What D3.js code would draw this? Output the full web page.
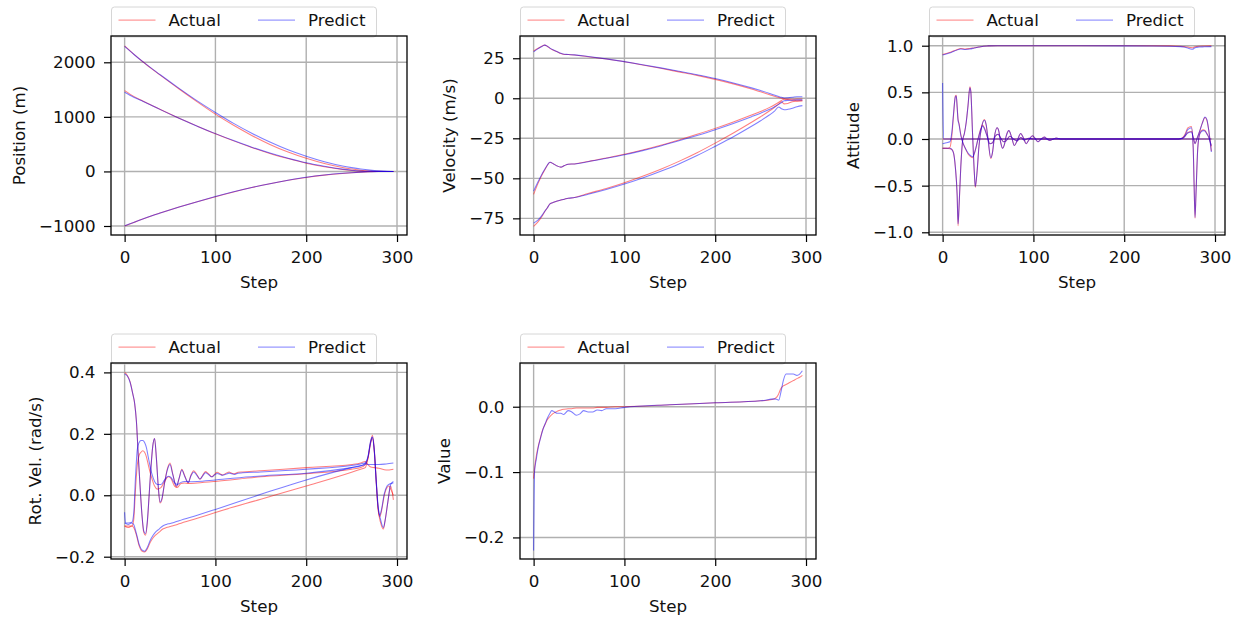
<!DOCTYPE html>
<html>
<head>
<meta charset="utf-8">
<script src="https://cdn.jsdelivr.net/npm/d3@7"></script>
<style>
  body { margin: 0; background: #fff; }
  text { font-family: "DejaVu Sans", sans-serif; }
</style>
</head>
<body>
<svg id="chart" width="1236" height="620"></svg>
<script>
// ---- data ----
const xTicks = [0, 100, 200, 300]

// position (m)
const posSteps = [0, 10, 20, 30, 40, 60, 80, 100, 120, 140, 160, 180, 200, 220, 240, 250, 260, 270, 280, 290, 296]
const posA_act = [2300, 2150, 2010, 1880, 1755, 1510, 1275, 1050, 845, 660, 495, 355, 240, 145, 72, 45, 22, 8, 1, -2, -3]
const posA_pre = [2290, 2148, 2012, 1885, 1762, 1522, 1292, 1080, 880, 700, 538, 396, 278, 178, 100, 70, 44, 24, 10, 2, 0]
const posB_act = [1480, 1375, 1290, 1210, 1130, 975, 830, 690, 560, 440, 330, 235, 150, 85, 35, 18, 6, 0, -2, -3, -3]
const posB_pre = [1450, 1360, 1285, 1208, 1128, 975, 830, 693, 565, 445, 338, 243, 160, 95, 42, 22, 8, 2, 0, -1, -1]
const posC_act = [-1000, -937, -872, -813, -759, -654, -555, -462, -375, -296, -225, -163, -110, -68, -37, -25, -15, -7, -2, 0, 0]
const posC_pre = [-995, -935, -870, -812, -758, -653, -554, -461, -374, -295, -224, -162, -108, -66, -35, -23, -13, -6, -1, 0, 0]
const posTicks = [-1000, 0, 1000, 2000]

// velocity (m/s)
const velSteps = [0, 5, 10, 12, 15, 18, 22, 26, 30, 34, 38, 45, 60, 80, 100, 120, 140, 160, 180, 200, 220, 240, 250, 260, 265, 270, 273, 276, 280, 285, 290, 296]
const velT_act = [29.5, 31.2, 32.8, 33.2, 32.5, 31.2, 30, 29, 28, 27.4, 27.3, 27, 26, 24.5, 22.8, 20.8, 18.7, 16.5, 14.3, 11.8, 9, 5.8, 4, 2.2, 1.3, 0.5, 0, -0.3, -0.5, -0.6, -0.5, -0.5]
const velT_pre = [29, 31, 32.7, 33.2, 32.6, 31.3, 30.1, 29.1, 28.1, 27.5, 27.4, 27.1, 26.1, 24.6, 22.9, 21, 19, 16.9, 14.7, 12.3, 9.6, 6.5, 4.8, 3, 2, 1.1, 0.6, 0.2, 0.3, 0.6, 1, 1]
const velM_act = [-60, -53, -47, -45, -42, -40, -41, -42.3, -43, -42, -41.2, -41, -39.5, -37.3, -35, -32.3, -29.3, -26, -22.5, -18.8, -14.8, -10.5, -8.2, -5.7, -4.2, -2.5, -1.3, -0.6, -0.8, -1.2, -1.5, -1.6]
const velM_pre = [-58, -52, -46.5, -44.6, -41.8, -40, -41, -42.3, -43, -42, -41.2, -41, -39.6, -37.5, -35.3, -32.7, -29.8, -26.6, -23.2, -19.6, -15.7, -11.5, -9.3, -6.9, -5.4, -3.8, -2.6, -1.6, -1.3, -1.2, -1, -1]
const velL_act = [-80, -77, -73, -71, -68.5, -66, -65, -64.2, -63.5, -63, -62.5, -62, -59.5, -56.3, -52.7, -48.7, -44.3, -39.4, -34, -28, -21.7, -15, -11.5, -7.8, -5.8, -3.5, -2.2, -3.5, -3.2, -2.2, -1.8, -1.5]
const velL_pre = [-78, -76, -72.5, -70.8, -68.5, -66, -65, -64.2, -63.5, -63, -62.5, -62, -60, -57, -53.6, -49.8, -45.6, -41, -35.8, -30, -24, -17.5, -14, -10.3, -8.2, -5.5, -6.5, -7.2, -6.9, -6.2, -5.3, -4.6]
const velTicks = [-75, -50, -25, 0, 25]

// attitude
const attWSteps = [0, 5, 10, 15, 20, 25, 30, 35, 40, 45, 50, 60, 100, 150, 200, 250, 262, 266, 270, 273, 275, 278, 282, 288, 296]
const attW_act = [0.905, 0.92, 0.935, 0.955, 0.97, 0.965, 0.97, 0.978, 0.985, 0.995, 0.998, 1.0, 1.0, 1.0, 1.0, 0.998, 0.995, 0.99, 0.985, 0.98, 0.978, 0.99, 0.995, 0.997, 0.998]
const attW_pre = [0.9, 0.915, 0.93, 0.95, 0.965, 0.96, 0.965, 0.975, 0.985, 0.995, 0.998, 1.0, 1.0, 0.999, 0.998, 0.995, 0.99, 0.985, 0.975, 0.965, 0.962, 0.978, 0.985, 0.988, 0.99]
const attXSteps = [0, 4, 8, 10, 12, 14, 15, 16, 17, 18, 20, 22, 25, 28, 31, 33, 36, 39, 42, 44, 46, 49, 52, 55, 58, 61, 64, 67, 70, 74, 78, 82, 86, 90, 95, 100, 110, 120, 200, 260, 264, 267, 270, 274, 276, 278, 280, 283, 286, 289, 291, 293, 295, 296]
const attX_act = [-0.1, -0.1, -0.09, 0.02, 0.25, 0.46, 0.47, 0.35, 0.21, 0.17, 0.05, -0.03, -0.1, -0.16, -0.19, -0.2, -0.12, 0.0, 0.11, 0.15, 0.12, 0.03, -0.05, -0.04, 0.03, 0.05, 0.01, -0.03, -0.02, 0.03, 0.0, -0.02, 0.015, -0.01, 0.008, 0.0, 0.0, 0.0, 0.0, 0.0, 0.005, 0.03, 0.07, 0.08, 0.02, -0.05, 0.0, 0.08, 0.17, 0.23, 0.2, 0.1, -0.05, -0.13]
const attX_pre = [-0.05, -0.04, -0.03, 0.06, 0.27, 0.45, 0.46, 0.34, 0.2, 0.16, 0.04, -0.03, -0.1, -0.15, -0.18, -0.19, -0.12, 0.0, 0.1, 0.14, 0.11, 0.03, -0.05, -0.04, 0.03, 0.05, 0.01, -0.03, -0.02, 0.03, 0.0, -0.02, 0.015, -0.01, 0.008, 0.0, 0.0, 0.0, 0.0, 0.0, 0.005, 0.03, 0.065, 0.075, 0.02, -0.05, 0.0, 0.08, 0.17, 0.235, 0.21, 0.1, -0.06, -0.14]
const attYSteps = [0, 4, 8, 10, 12, 14, 16, 17, 18, 20, 22, 24, 26, 28, 30, 31, 33, 35, 36, 38, 40, 43, 46, 48, 50, 53, 55, 57, 60, 62, 64, 66, 68, 70, 73, 76, 79, 82, 86, 89, 92, 95, 99, 102, 105, 108, 112, 115, 118, 122, 125, 130, 200, 260, 264, 267, 270, 274, 276, 277, 278, 279, 281, 283, 285, 287, 289, 291, 293, 295, 296]
const attY_act = [-0.1, -0.1, -0.105, -0.11, -0.15, -0.3, -0.6, -0.93, -0.75, -0.3, -0.02, 0.06, 0.18, 0.36, 0.56, 0.52, 0.05, -0.38, -0.52, -0.35, -0.08, 0.13, 0.21, 0.15, 0.0, -0.21, -0.14, 0.02, 0.12, 0.08, -0.04, -0.1, -0.06, 0.03, 0.09, 0.02, -0.07, -0.02, 0.06, 0.01, -0.05, -0.01, 0.035, 0.005, -0.03, -0.005, 0.02, 0.0, -0.015, 0.0, 0.01, 0.0, 0.0, 0.0, 0.01, 0.05, 0.12, 0.135, -0.1, -0.5, -0.85, -0.6, -0.1, 0.05, 0.09, 0.1, 0.09, 0.06, 0.02, -0.04, -0.08]
const attY_pre = [-0.1, -0.1, -0.1, -0.11, -0.15, -0.3, -0.6, -0.91, -0.74, -0.3, -0.02, 0.06, 0.18, 0.36, 0.55, 0.51, 0.05, -0.37, -0.51, -0.34, -0.08, 0.13, 0.2, 0.15, 0.0, -0.2, -0.14, 0.02, 0.12, 0.08, -0.04, -0.1, -0.06, 0.03, 0.09, 0.02, -0.07, -0.02, 0.06, 0.01, -0.05, -0.01, 0.035, 0.005, -0.03, -0.005, 0.02, 0.0, -0.015, 0.0, 0.01, 0.0, 0.0, 0.0, 0.01, 0.04, 0.1, 0.12, -0.1, -0.5, -0.84, -0.6, -0.1, 0.05, 0.08, 0.09, 0.085, 0.055, 0.02, -0.04, -0.07]
const attZSteps = [0, 1, 100, 200, 296]
const attZ_act = [0, 0, 0, 0, 0]
const attZ_pre = [0.6, 0, 0, 0, 0]
const attTicks = [-1, -0.5, 0, 0.5, 1]

// rotational velocity (rad/s)
const rvASteps = [0, 3, 6, 9, 11, 13, 15, 17, 19, 21, 23, 25, 27, 29, 31, 33, 35, 37, 39, 41, 44, 47, 50, 53, 57, 60, 63, 66, 70, 73, 76, 80, 83, 86, 89, 93, 96, 99, 102, 105, 108, 112, 115, 118, 121, 125, 130, 150, 200, 250, 260, 265, 268, 271, 275, 280, 288, 296]
const rvA_act = [0.40, 0.39, 0.37, 0.33, 0.30, 0.24, 0.13, 0.03, -0.06, -0.12, -0.13, -0.09, 0.0, 0.09, 0.16, 0.185, 0.12, 0.03, -0.025, -0.015, 0.04, 0.085, 0.105, 0.07, 0.027, 0.055, 0.085, 0.065, 0.04, 0.065, 0.08, 0.065, 0.052, 0.065, 0.077, 0.068, 0.06, 0.068, 0.075, 0.07, 0.066, 0.072, 0.076, 0.072, 0.07, 0.075, 0.076, 0.08, 0.09, 0.1, 0.105, 0.11, 0.1, 0.092, 0.09, 0.088, 0.082, 0.085]
const rvA_pre = [0.395, 0.388, 0.368, 0.33, 0.30, 0.24, 0.13, 0.03, -0.06, -0.115, -0.125, -0.085, 0.0, 0.09, 0.16, 0.185, 0.12, 0.03, -0.022, -0.012, 0.04, 0.082, 0.1, 0.068, 0.03, 0.055, 0.082, 0.063, 0.042, 0.063, 0.076, 0.063, 0.053, 0.063, 0.073, 0.066, 0.06, 0.066, 0.071, 0.068, 0.065, 0.069, 0.072, 0.07, 0.068, 0.072, 0.073, 0.076, 0.085, 0.097, 0.102, 0.105, 0.1, 0.1, 0.1, 0.1, 0.102, 0.105]
const rvBSteps = [0, 1, 4, 8, 10, 12, 14, 16, 18, 20, 22, 24, 26, 28, 30, 33, 36, 40, 44, 48, 51, 55, 58, 62, 66, 70, 80, 100, 150, 200, 250, 260, 265, 268, 271, 273, 275, 277, 279, 282, 285, 287, 290, 293, 296]
const rvB_act = [-0.1, -0.1, -0.1, -0.1, -0.08, 0.02, 0.1, 0.13, 0.14, 0.145, 0.14, 0.125, 0.1, 0.075, 0.055, 0.03, 0.02, 0.025, 0.045, 0.06, 0.055, 0.03, 0.025, 0.038, 0.04, 0.038, 0.04, 0.045, 0.06, 0.07, 0.085, 0.09, 0.1, 0.12, 0.17, 0.185, 0.14, 0.05, -0.04, -0.09, -0.11, -0.08, -0.02, 0.03, -0.015]
const rvB_pre = [-0.055, -0.09, -0.09, -0.088, -0.06, 0.06, 0.15, 0.172, 0.178, 0.178, 0.172, 0.155, 0.125, 0.095, 0.07, 0.045, 0.035, 0.035, 0.05, 0.062, 0.058, 0.04, 0.035, 0.042, 0.045, 0.044, 0.045, 0.05, 0.063, 0.072, 0.09, 0.095, 0.105, 0.125, 0.172, 0.19, 0.145, 0.055, -0.03, -0.08, -0.105, -0.08, -0.02, 0.035, 0.045]
const rvCSteps = [0, 4, 8, 10, 13, 16, 19, 22, 25, 28, 31, 34, 38, 42, 46, 50, 55, 60, 80, 100, 150, 200, 250, 260, 265, 268, 271, 273, 275, 277, 279, 281, 283, 286, 289, 291, 293, 296]
const rvC_act = [-0.1, -0.105, -0.1, -0.105, -0.13, -0.165, -0.182, -0.185, -0.175, -0.155, -0.14, -0.13, -0.12, -0.11, -0.105, -0.102, -0.098, -0.093, -0.075, -0.056, -0.013, 0.03, 0.075, 0.085, 0.09, 0.12, 0.175, 0.195, 0.15, 0.05, -0.04, -0.07, -0.05, 0.0, 0.025, 0.03, 0.02, 0.0]
const rvC_pre = [-0.09, -0.095, -0.09, -0.095, -0.125, -0.16, -0.178, -0.182, -0.17, -0.148, -0.132, -0.12, -0.11, -0.1, -0.095, -0.092, -0.088, -0.083, -0.065, -0.046, 0.003, 0.05, 0.09, 0.097, 0.1, 0.125, 0.178, 0.19, 0.145, 0.045, -0.035, -0.065, -0.045, 0.005, 0.03, 0.035, 0.038, 0.04]
const rvTicks = [-0.2, 0, 0.2, 0.4]

// value
const valSteps = [0, 1, 3, 5, 8, 10, 13, 15, 18, 20, 23, 26, 30, 33, 38, 42, 47, 51, 55, 60, 65, 70, 75, 80, 90, 100, 150, 200, 250, 265, 268, 270, 272, 275, 278, 282, 286, 290, 293, 296]
const val_act = [-0.11, -0.095, -0.075, -0.061, -0.045, -0.035, -0.026, -0.02, -0.015, -0.012, -0.009, -0.007, -0.005, -0.004, -0.003, -0.003, -0.002, -0.002, -0.002, -0.002, -0.002, -0.001, -0.001, -0.001, 0.0, 0.0, 0.003, 0.006, 0.009, 0.012, 0.015, 0.02, 0.027, 0.032, 0.034, 0.037, 0.04, 0.043, 0.045, 0.048]
const val_pre = [-0.22, -0.1, -0.08, -0.063, -0.046, -0.036, -0.025, -0.018, -0.01, -0.006, -0.008, -0.01, -0.01, -0.012, -0.006, -0.008, -0.013, -0.011, -0.006, -0.008, -0.008, -0.005, -0.006, -0.003, -0.003, -0.001, 0.003, 0.006, 0.009, 0.012, 0.011, 0.01, 0.02, 0.04, 0.05, 0.05, 0.05, 0.048, 0.05, 0.055]
const valTicks = [-0.2, -0.1, 0]

// ---- layout ----
const W = 296
const FS = 16.7
const svg = d3.select('#chart')

const panels = [
  { left: 111, top: 36, bottom: 235, yDomain: [-1165, 2482], yTicks: posTicks, fmt: d3.format('d'), label: 'Position (m)',
    series: [[posSteps, posA_act, posA_pre], [posSteps, posB_act, posB_pre], [posSteps, posC_act, posC_pre]] },
  { left: 520, top: 36, bottom: 235, yDomain: [-85.4, 38.9], yTicks: velTicks, fmt: d3.format('d'), label: 'Velocity (m/s)',
    series: [[velSteps, velT_act, velT_pre], [velSteps, velM_act, velM_pre], [velSteps, velL_act, velL_pre]] },
  { left: 929, top: 36, bottom: 235, yDomain: [-1.029, 1.104], yTicks: attTicks, fmt: d3.format('.1f'), label: 'Attitude',
    series: [[attWSteps, attW_act, attW_pre], [attXSteps, attX_act, attX_pre], [attYSteps, attY_act, attY_pre], [attZSteps, attZ_act, attZ_pre]] },
  { left: 111, top: 363, bottom: 559, yDomain: [-0.2075, 0.4306], yTicks: rvTicks, fmt: d3.format('.1f'), label: 'Rot. Vel. (rad/s)',
    series: [[rvASteps, rvA_act, rvA_pre], [rvBSteps, rvB_act, rvB_pre], [rvCSteps, rvC_act, rvC_pre]] },
  { left: 520, top: 363, bottom: 559, yDomain: [-0.233, 0.0669], yTicks: valTicks, fmt: d3.format('.1f'), label: 'Value',
    series: [[valSteps, val_act, val_pre]] }
]

const RED = 'rgba(255,0,0,0.5)'
const BLUE = 'rgba(0,0,255,0.5)'

panels.forEach((p, i) => {
  const x = d3.scaleLinear().domain([-15, 311]).range([p.left, p.left + W])
  const y = d3.scaleLinear().domain(p.yDomain).range([p.bottom, p.top])
  const g = svg.append('g')

  g.append('clipPath').attr('id', 'clip' + i)
    .append('rect').attr('x', p.left).attr('y', p.top).attr('width', W).attr('height', p.bottom - p.top)

  // grid
  g.append('g').selectAll('line').data(xTicks).join('line')
    .attr('x1', d => x(d)).attr('x2', d => x(d)).attr('y1', p.top).attr('y2', p.bottom)
    .attr('stroke', '#b0b0b0').attr('stroke-width', 1.4)
  g.append('g').selectAll('line').data(p.yTicks).join('line')
    .attr('x1', p.left).attr('x2', p.left + W).attr('y1', d => y(d)).attr('y2', d => y(d))
    .attr('stroke', '#b0b0b0').attr('stroke-width', 1.4)

  // lines: all actual first, then predict on top
  const lines = g.append('g').attr('clip-path', `url(#clip${i})`)
  const mk = steps => d3.line().x((d, j) => x(steps[j])).y(d => y(d)).curve(d3.curveMonotoneX)
  p.series.forEach(([steps, act]) => {
    if (steps.length !== act.length) console.warn('length mismatch', p.label)
    lines.append('path').attr('d', mk(steps)(act)).attr('fill', 'none').attr('stroke', RED).attr('stroke-width', 1.05)
  })
  p.series.forEach(([steps, , pre]) => {
    if (steps.length !== pre.length) console.warn('length mismatch', p.label)
    lines.append('path').attr('d', mk(steps)(pre)).attr('fill', 'none').attr('stroke', BLUE).attr('stroke-width', 1.05)
  })

  // legend above the axes
  const lg = g.append('g').attr('transform', `translate(${p.left},${p.top - 29.5})`)
  lg.append('rect').attr('x', 0.5).attr('y', 0.5).attr('width', 265).attr('height', 30).attr('rx', 3)
    .attr('fill', '#fff').attr('fill-opacity', 0.8).attr('stroke', '#d6d6d6')
  const items = [['Actual', RED, 7.5], ['Predict', BLUE, 147]]
  items.forEach(([name, col, hx]) => {
    lg.append('line').attr('x1', hx).attr('x2', hx + 37).attr('y1', 13.6).attr('y2', 13.6)
      .attr('stroke', col).attr('stroke-width', 1)
    lg.append('text').attr('x', hx + 50).attr('y', 19).attr('font-size', FS).attr('fill', '#111').text(name)
  })

  // axes
  const xa = g.append('g').attr('transform', `translate(0,${p.bottom})`)
    .call(d3.axisBottom(x).tickValues(xTicks).tickSize(7).tickSizeOuter(0).tickPadding(9.6).tickFormat(d3.format('d')))
  const ya = g.append('g').attr('transform', `translate(${p.left},0)`)
    .call(d3.axisLeft(y).tickValues(p.yTicks).tickSize(7).tickSizeOuter(0).tickPadding(8.5).tickFormat(p.fmt))
  ;[xa, ya].forEach(a => {
    a.select('.domain').remove()
    a.selectAll('line').attr('stroke', '#000').attr('stroke-width', 1.2)
    a.selectAll('text').attr('font-size', FS).attr('font-family', '"DejaVu Sans", sans-serif').attr('fill', '#111')
  })

  // spines
  g.append('rect').attr('x', p.left).attr('y', p.top).attr('width', W).attr('height', p.bottom - p.top)
    .attr('fill', 'none').attr('stroke', '#000').attr('stroke-width', 1.3)

  // axis labels
  g.append('text').attr('x', p.left + W / 2).attr('y', p.bottom + 52.5).attr('text-anchor', 'middle')
    .attr('font-size', FS).attr('fill', '#111').text('Step')
  const minX = d3.min(ya.selectAll('text').nodes(), n => n.getBBox().x) + p.left
  const ly = (p.top + p.bottom) / 2
  g.append('text').attr('transform', `translate(${minX - 14.3},${ly}) rotate(-90)`).attr('text-anchor', 'middle')
    .attr('font-size', FS).attr('fill', '#111').text(p.label)
})
</script>
</body>
</html>
